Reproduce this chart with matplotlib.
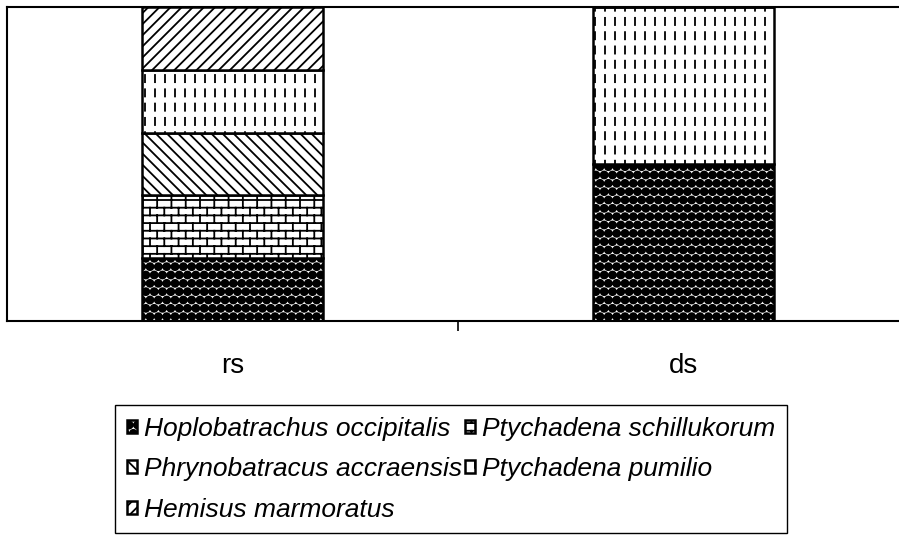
import warnings
import numpy as np
import matplotlib.pyplot as plt
import matplotlib.hatch as mhatch
from matplotlib.path import Path

warnings.filterwarnings('ignore')

plt.rcParams['font.family'] = ['Liberation Sans', 'DejaVu Sans']
plt.rcParams['hatch.linewidth'] = 1.3

sites = ['rs', 'ds']
species = ['Hoplobatrachus occipitalis', 'Ptychadena schillukorum',
           'Phrynobatracus accraensis', 'Ptychadena pumilio',
           'Hemisus marmoratus']
# percentage share of each species per site
hoplobatrachus = [20, 50]
schillukorum = [20, 0]
phrynobatracus = [20, 0]
pumilio = [20, 50]
hemisus = [20, 0]


# a few extra hatch fills to get closer to the old Excel patterns
class SegmentHatch(mhatch.HatchPatternBase):
    char = None

    def __init__(self, hatch, density):
        self.segs = self.segments() if self.char in hatch else []
        self.num_vertices = 2 * len(self.segs)

    def set_vertices_and_codes(self, vertices, codes):
        vertices[:] = np.array(self.segs, dtype=float).reshape(-1, 2)
        codes[0::2] = Path.MOVETO
        codes[1::2] = Path.LINETO


class DashHatch(SegmentHatch):
    char = 'd'

    def segments(self):
        nx, ny = 10, 7
        return [((i + 0.5) / nx, (j + 0.25) / ny, (i + 0.5) / nx, (j + 0.75) / ny)
                for i in range(nx) for j in range(ny)]


class BrickHatch(SegmentHatch):
    char = 'k'

    def segments(self):
        ny, nx = 13, 7
        segs = [(0, j / ny, 1, j / ny) for j in range(ny + 1)]
        for j in range(ny):
            off = 0 if j % 2 == 0 else 0.5
            for i in range(nx + 1):
                x = (i + off) / nx
                if x <= 1:
                    segs.append((x, j / ny, x, (j + 1) / ny))
        return segs


class BallHatch(mhatch.Circles):
    size = 0.42
    filled = True

    def __init__(self, hatch, density):
        self.num_rows = 12 if 'b' in hatch else 0
        super().__init__(hatch, density)


mhatch._hatch_types.extend([DashHatch, BrickHatch, BallHatch])

hatches = ['b', 'k', '\\\\\\', 'd', '///']

fig = plt.figure(figsize=(8.99, 5.38), dpi=100)
ax = fig.add_axes([7 / 899, (538 - 321) / 538, 902 / 899, 314 / 538])

x = np.arange(len(sites))
bottom = np.zeros(len(sites))
handles = []
for name, vals, h in zip(species, [hoplobatrachus, schillukorum, phrynobatracus, pumilio, hemisus], hatches):
    vals = np.array(vals, dtype=float)
    b = ax.bar(x, vals, 0.4, bottom=bottom, color='white', edgecolor='black',
               hatch=h, linewidth=1.8, label=name)
    handles.append(b)
    bottom += vals

ax.set_xlim(-0.5, 1.5)
ax.set_ylim(0, 100)
ax.set_yticks([])
ax.set_xticks([0.5])
ax.set_xticklabels([''])
ax.tick_params(axis='x', which='major', length=7, width=1.2, direction='out')
ax.set_xticks(x, minor=True)
ax.set_xticklabels(sites, minor=True, fontsize=20)
ax.tick_params(axis='x', which='minor', length=0, pad=23)
for s in ['left', 'top', 'bottom']:
    ax.spines[s].set_linewidth(1.5)
ax.spines['right'].set_visible(False)

# legend in row order: fill column-major for ncol=2
order = [0, 2, 4, 1, 3]
leg = fig.legend([handles[i] for i in order], [species[i] for i in order],
                 loc='upper center', bbox_to_anchor=(451 / 899, 1 - 405 / 538),
                 ncol=2, fancybox=False, edgecolor='black', framealpha=1,
                 prop={'style': 'italic', 'size': 19},
                 handlelength=0.4, handleheight=0.4, handletextpad=0.25,
                 columnspacing=0.1, labelspacing=0.62, borderpad=0.45,
                 borderaxespad=0)
leg.get_frame().set_linewidth(1.0)

fig.savefig('out.png', dpi=100)
